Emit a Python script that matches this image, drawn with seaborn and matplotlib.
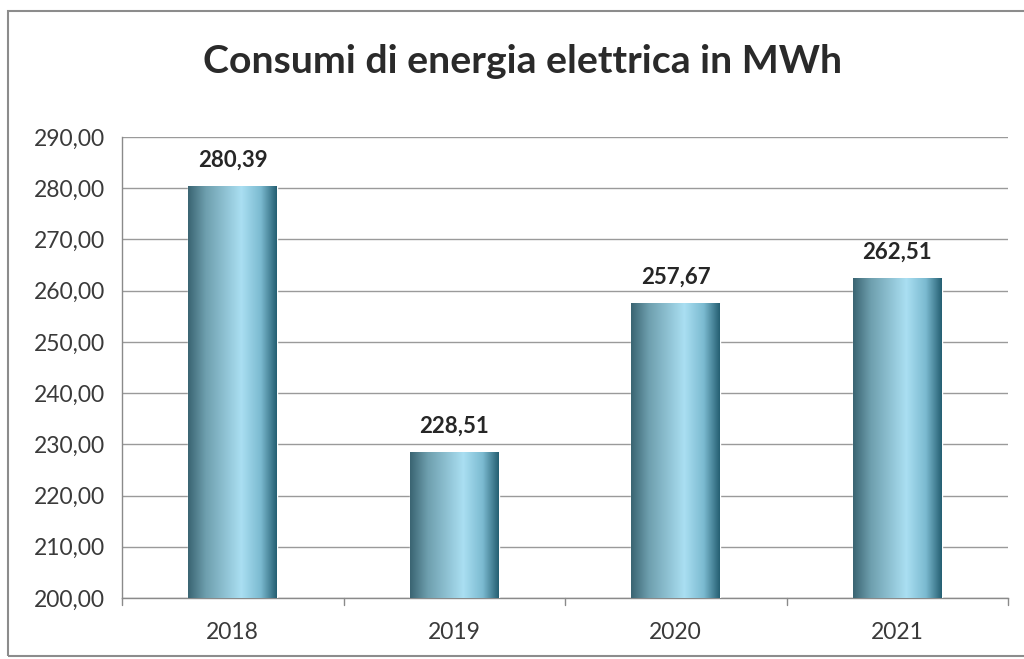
import matplotlib
matplotlib.use("Agg")
import matplotlib.pyplot as plt
from matplotlib.colors import LinearSegmentedColormap
from matplotlib.patches import Rectangle
from matplotlib.ticker import FuncFormatter, MultipleLocator
import numpy as np
import pandas as pd
import seaborn as sns

anni = ["2018", "2019", "2020", "2021"]
consumi = [280.39, 228.51, 257.67, 262.51]
titolo = "Consumi di energia elettrica in MWh"

sns.set_style("white")
plt.rcParams["font.family"] = ["Lato", "DejaVu Sans"]

df = pd.DataFrame({"anno": anni, "mwh": consumi})

fig = plt.figure(figsize=(10.24, 6.59), dpi=100)
ax = fig.add_axes([122 / 1024, 1 - 598 / 659, 886 / 1024, 461 / 659])

sns.barplot(data=df, x="anno", y="mwh", ax=ax, width=0.4, color="#5fa3bb", zorder=3)

ymin, ymax = 200, 290

# cylinder-like shading on each bar
cmap = LinearSegmentedColormap.from_list(
    "cyl",
    [(0.0, "#3a6472"), (0.2, "#6e9fae"), (0.6, "#aadff2"), (0.82, "#7bbad0"), (1.0, "#255f72")],
)
grad = np.linspace(0, 1, 256).reshape(1, -1)
for bar in ax.patches:
    x0, w, h = bar.get_x(), bar.get_width(), bar.get_height()
    top = bar.get_y() + h
    im = ax.imshow(grad, cmap=cmap, aspect="auto", extent=[x0, x0 + w, ymin, top], zorder=4)
    im.set_clip_path(bar)

ax.set_xlim(-0.5, 3.5)
ax.set_ylim(ymin, ymax)
ax.yaxis.set_major_locator(MultipleLocator(10))
ax.yaxis.set_major_formatter(FuncFormatter(lambda v, p: f"{v:.2f}".replace(".", ",")))
ax.grid(axis="y", color="#9a9a9a", lw=1.0, zorder=0)

for i, v in enumerate(consumi):
    ax.annotate(f"{v:.2f}".replace(".", ","), (i, v), xytext=(0, 11), textcoords="offset points",
                ha="center", va="bottom", fontsize=16, fontweight="bold", color="#262626")

for s in ["top", "right"]:
    ax.spines[s].set_visible(False)
for s in ["left", "bottom"]:
    ax.spines[s].set_color("#8a8a8a")
    ax.spines[s].set_linewidth(1.0)

ax.set_xticks([0, 1, 2, 3])
ax.set_xticklabels(anni)
ax.tick_params(axis="x", length=0, pad=17, labelsize=16.5, labelcolor="#3a3a3a")
ax.tick_params(axis="y", length=6, width=1, color="#8a8a8a", pad=6, labelsize=16.5, labelcolor="#3a3a3a")
# category divider ticks on x axis
for xb in [-0.5, 0.5, 1.5, 2.5, 3.5]:
    ax.plot([xb, xb], [0, -0.015], transform=ax.get_xaxis_transform(), color="#8a8a8a", lw=1, clip_on=False)
ax.set_xlabel("")
ax.set_ylabel("")

fig.text(0.51, 0.906, titolo, ha="center", va="center", fontsize=28.3, fontweight="bold", color="#2a2a2a")

# outer chart frame
fig.patches.append(Rectangle((8 / 1024, 3 / 659), 1.1, 645 / 659, transform=fig.transFigure,
                             fill=False, edgecolor="#8c8c8c", lw=1.5))

fig.savefig("out.png", dpi=100)
